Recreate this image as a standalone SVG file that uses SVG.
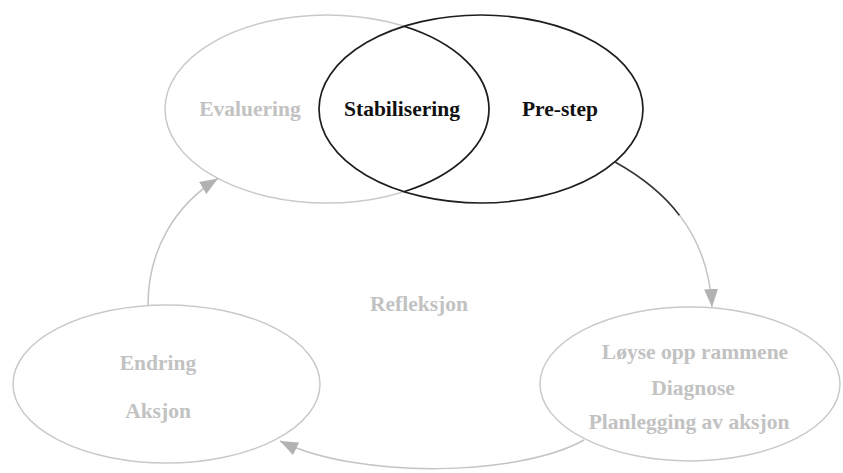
<svg xmlns="http://www.w3.org/2000/svg" width="843" height="473" viewBox="0 0 843 473">
  <style>
    .bg { fill: #ffffff; }
    .ring-grey { fill: none; stroke: #c9c9c9; stroke-width: 1.5; }
    .ring-dark { fill: none; stroke: #1e1e1e; stroke-width: 1.7; }
    .lbl { font-family: "Liberation Serif", "Times New Roman", serif; font-weight: bold; font-size: 21.5px; text-anchor: middle; }
    .lbl-grey { fill: #c2c2c2; }
    .lbl-dark { fill: #111111; }
    .wire-grey { fill: none; stroke: #c4c4c4; stroke-width: 1.5; }
    .wire-dark { fill: none; stroke: #333333; stroke-width: 1.6; }
  </style>
  <defs>
    <marker id="arrow" markerUnits="userSpaceOnUse" markerWidth="19" markerHeight="15" refX="18" refY="7" orient="auto">
      <path d="M0,0 L18,7 L0,14 Z" fill="#b2b2b2"/>
    </marker>
  </defs>

  <rect class="bg" x="0" y="0" width="843" height="473"/>

  <!-- upper left ring -->
  <g id="node-evaluering">
    <ellipse class="ring-grey" cx="327" cy="109" rx="162" ry="94"/>
    <text class="lbl lbl-grey" x="250" y="116">Evaluering</text>
  </g>

  <!-- upper right ring -->
  <g id="node-prestep">
    <ellipse class="ring-dark" cx="481" cy="109" rx="162" ry="94"/>
    <text class="lbl lbl-dark" x="560" y="116">Pre-step</text>
  </g>

  <!-- overlap of the two upper rings -->
  <g id="node-stabilisering">
    <path class="ring-dark" d="M404,26.3 A162,94 0 0 1 404,191.7"/>
    <text class="lbl lbl-dark" x="402" y="116">Stabilisering</text>
  </g>

  <!-- lower right ring -->
  <g id="node-planlegging">
    <ellipse class="ring-grey" cx="690" cy="384" rx="150" ry="77"/>
    <text class="lbl lbl-grey" x="695" y="359">Løyse opp rammene</text>
    <text class="lbl lbl-grey" x="693" y="395">Diagnose</text>
    <text class="lbl lbl-grey" x="689" y="429">Planlegging av aksjon</text>
  </g>

  <!-- lower left ring -->
  <g id="node-aksjon">
    <ellipse class="ring-grey" cx="166.5" cy="384" rx="153.5" ry="79"/>
    <text class="lbl lbl-grey" x="158" y="370">Endring</text>
    <text class="lbl lbl-grey" x="158" y="418">Aksjon</text>
  </g>

  <!-- centre caption -->
  <g id="label-refleksjon">
    <text class="lbl lbl-grey" x="419" y="311">Refleksjon</text>
  </g>

  <g id="connectors">
    <!-- Pre-step to planning: dark start, grey finish -->
    <path class="wire-dark" d="M615,162 C638.5,175 661.75,192 679.6,215.4"/>
    <path class="wire-grey" d="M679.6,215.4 C697.5,238.75 710,268.5 712,307" marker-end="url(#arrow)"/>
    <!-- planning to action -->
    <path class="wire-grey" d="M584,440 C520,476 360,480 280,441" marker-end="url(#arrow)"/>
    <!-- action to evaluation -->
    <path class="wire-grey" d="M148,305 C148,250 175,205 218,178.5" marker-end="url(#arrow)"/>
  </g>
</svg>
